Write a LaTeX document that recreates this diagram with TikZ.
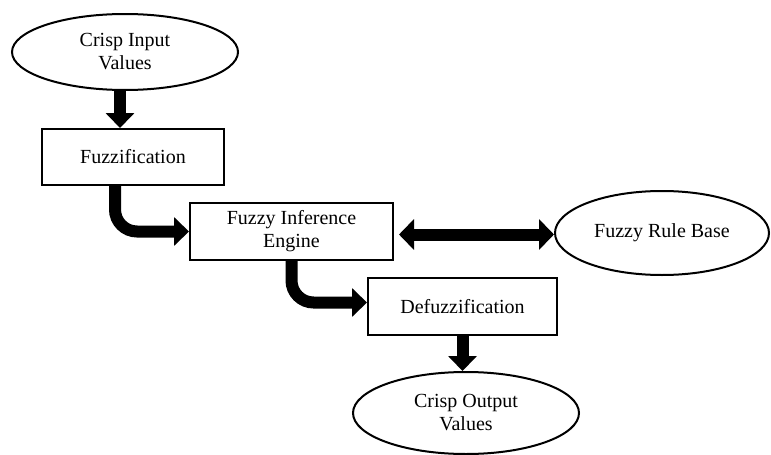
\documentclass[tikz,border=0pt]{standalone}
\usepackage{fontspec}
\setmainfont{Liberation Serif}
\usetikzlibrary{shapes.geometric,arrows.meta}

\begin{document}
\begin{tikzpicture}[x=1pt,y=-1pt,font=\fontsize{20}{23}\selectfont,
ell/.style={draw,line width=2pt,ellipse,inner sep=0pt,align=center},
box/.style={draw,line width=2pt,rectangle,inner sep=0pt,align=center},
arr/.style={line width=12pt,-{Triangle[length=15pt,width=28pt]}},
darr/.style={line width=12pt,{Triangle[length=15pt,width=30pt]}-{Triangle[length=15pt,width=30pt]}}]
\useasboundingbox(0,0)rectangle(771,455);
\node[ell,minimum width=226,minimum height=76](input)at(125,52){Crisp Input\\Values};
\node[box,minimum width=182,minimum height=56](fuzz)at(133,157){Fuzzification};
\node[box,minimum width=203,minimum height=57](fie)at(291.5,231.5){Fuzzy Inference\\Engine};
\node[ell,minimum width=214,minimum height=84](rule)at(662,233){Fuzzy Rule Base};
\node[box,minimum width=189,minimum height=57](defuzz)at(462.5,306.5){Defuzzification};
\node[ell,minimum width=226,minimum height=82](output)at(466,413){Crisp Output\\Values};

\draw[arr]([xshift=-5pt]input.south)--([xshift=-13pt]fuzz.north);
\draw[arr,rounded corners=22pt]([xshift=-18pt]fuzz.south)|-(fie.west);
\draw[darr]([xshift=5pt,yshift=-3pt]fie.east)--([yshift=-3pt]fie.east-|rule.west);
\draw[arr,rounded corners=22pt](fie.south)|-([yshift=4pt]defuzz.west);
\draw[arr](defuzz.south)--(defuzz.south|-output.north);
\end{tikzpicture}
\end{document}
